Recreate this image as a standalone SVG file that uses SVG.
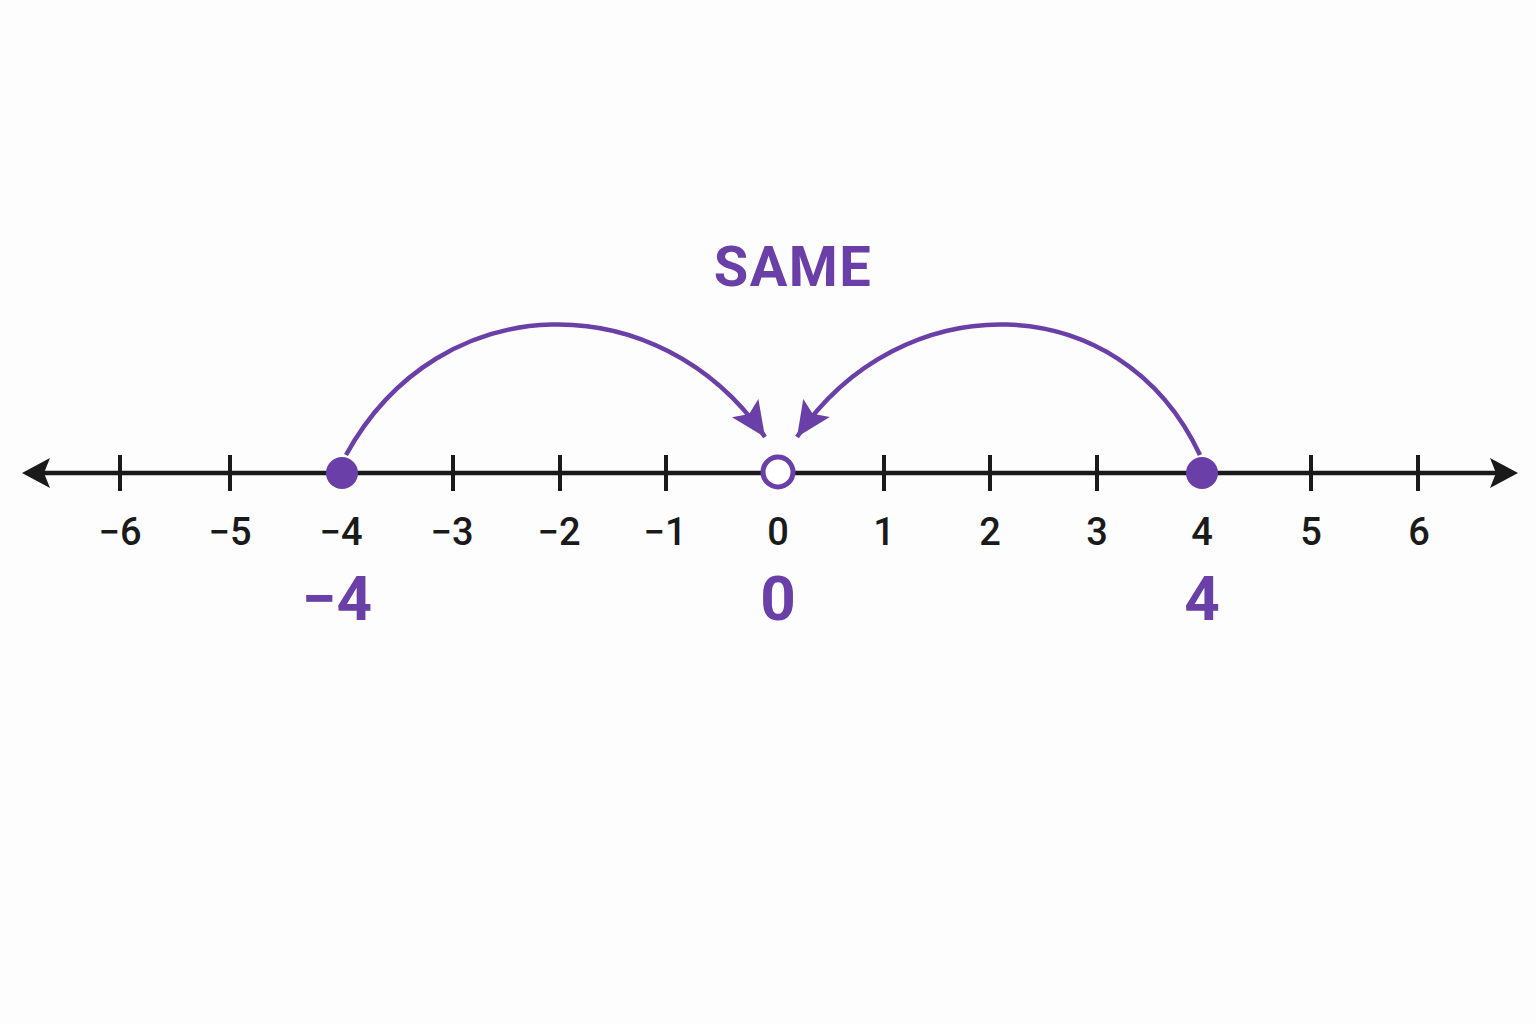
<svg xmlns="http://www.w3.org/2000/svg" width="1536" height="1024" viewBox="0 0 1536 1024">
<style>
.tick{stroke:#1a1a1a;stroke-width:4}
.num{font-family:Roboto,"Liberation Sans",sans-serif;font-size:38px;font-weight:500;fill:#1a1a1a;text-anchor:middle}
.big{font-family:Roboto,"Liberation Sans",sans-serif;font-size:62px;font-weight:bold;fill:#6a40a8;text-anchor:middle}
.arc{fill:none;stroke:#6a40a8;stroke-width:4.5}
</style>
<defs>
<marker id="ah" markerUnits="userSpaceOnUse" markerWidth="44" markerHeight="44" viewBox="-38 -22 44 44" refX="0" refY="0" orient="auto">
<path d="M0,0 L-35,-16 L-28,0 L-35,16 Z" fill="#6a40a8"/>
</marker>
</defs>
<rect width="1536" height="1024" fill="#fdfdfd"/>
<g id="axis">
<line x1="40" y1="473" x2="1500" y2="473" stroke="#1a1a1a" stroke-width="4.5"/>
<path d="M22,473 L50,458 L44,473 L50,488 Z" fill="#1a1a1a"/>
<path d="M1518,473 L1490,458 L1496,473 L1490,488 Z" fill="#1a1a1a"/>
<line class="tick" x1="120" y1="455" x2="120" y2="491"/>
<line class="tick" x1="230" y1="455" x2="230" y2="491"/>
<line class="tick" x1="453" y1="455" x2="453" y2="491"/>
<line class="tick" x1="560" y1="455" x2="560" y2="491"/>
<line class="tick" x1="666" y1="455" x2="666" y2="491"/>
<line class="tick" x1="884" y1="455" x2="884" y2="491"/>
<line class="tick" x1="990" y1="455" x2="990" y2="491"/>
<line class="tick" x1="1097" y1="455" x2="1097" y2="491"/>
<line class="tick" x1="1311" y1="455" x2="1311" y2="491"/>
<line class="tick" x1="1418" y1="455" x2="1418" y2="491"/>
</g>
<g id="labels">
<text class="num" x="120" y="545">−6</text>
<text class="num" x="230" y="545">−5</text>
<text class="num" x="341" y="545">−4</text>
<text class="num" x="452" y="545">−3</text>
<text class="num" x="559" y="545">−2</text>
<text class="num" x="665" y="545">−1</text>
<text class="num" x="778" y="545">0</text>
<text class="num" x="884" y="545">1</text>
<text class="num" x="990" y="545">2</text>
<text class="num" x="1097" y="545">3</text>
<text class="num" x="1202" y="545">4</text>
<text class="num" x="1311" y="545">5</text>
<text class="num" x="1419" y="545">6</text>
</g>
<g id="connectors">
<path class="arc" d="M346,455 C440,284 660,284 765,437" marker-end="url(#ah)"/>
<path class="arc" d="M1200,455 C1120,284 900,284 797,437" marker-end="url(#ah)"/>
</g>
<g id="point-neg4">
<circle cx="342" cy="473" r="16" fill="#6a40a8"/>
<text class="big" x="337" y="620">−4</text>
</g>
<g id="point-0">
<circle cx="778" cy="472" r="15" fill="#ffffff" stroke="#6a40a8" stroke-width="5"/>
<text class="big" x="778" y="620">0</text>
</g>
<g id="point-4">
<circle cx="1202" cy="473" r="16" fill="#6a40a8"/>
<text class="big" x="1202" y="620">4</text>
</g>
<g id="title">
<text x="793" y="286" font-family="Roboto,'Liberation Sans',sans-serif" font-size="56" font-weight="bold" letter-spacing="1.5" fill="#6a40a8" text-anchor="middle">SAME</text>
</g>
</svg>
